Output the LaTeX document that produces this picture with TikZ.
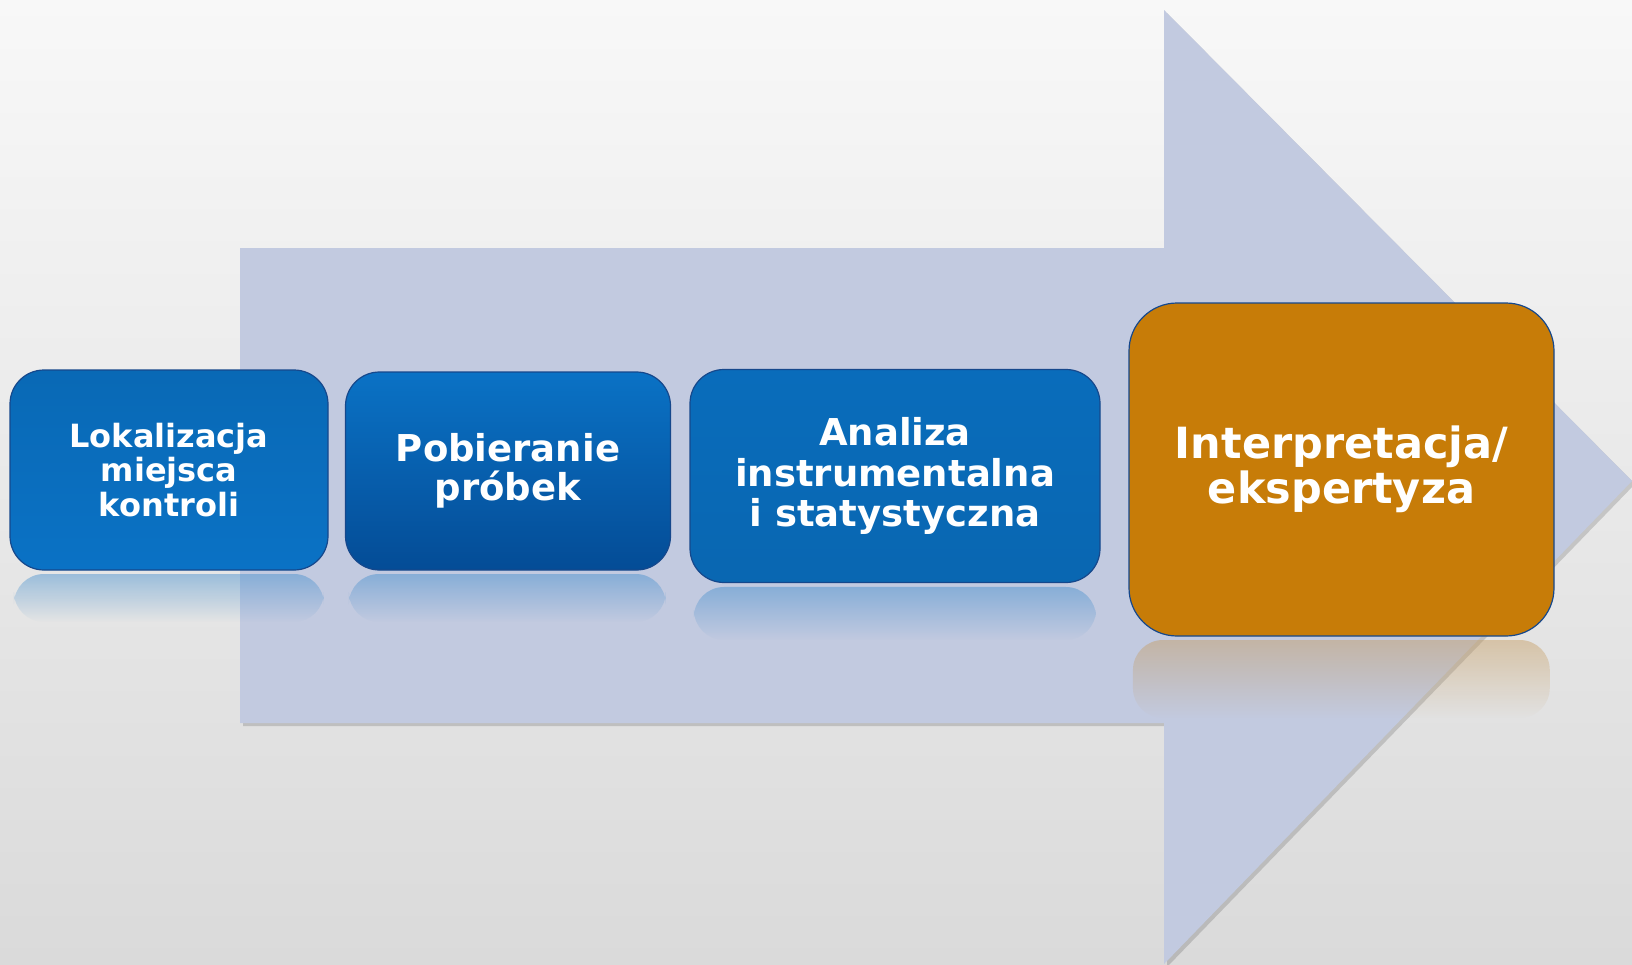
\documentclass[tikz,border=0pt]{standalone}
\usepackage{fontspec}
\setmainfont{DejaVu Sans}
\usetikzlibrary{fadings}
\definecolor{bgtop}{RGB}{248,248,248}
\definecolor{bgbot}{RGB}{218,218,218}
\definecolor{arrowfill}{RGB}{194,202,224}
\definecolor{boxedge}{RGB}{22,72,140}
\definecolor{blueA}{RGB}{10,114,197}
\definecolor{blueB}{RGB}{4,76,150}
\definecolor{orangeA}{RGB}{199,124,8}

\tikzset{
  stepbox/.style={rounded corners=34pt, draw=boxedge, line width=1.2pt,
    text=white, align=center},
  reflect/.style={rounded corners=30pt, path fading=south, opacity=0.45}
}

\begin{document}
\begin{tikzpicture}[x=1pt,y=1pt,yscale=-1,xscale=1]
\useasboundingbox (0,0) rectangle (1632,964);

%Shape: Background
\shade[top color=bgtop, bottom color=bgbot] (0,0) rectangle (1632,964);

%Shape: Arrow shadow
\fill[black, opacity=0.15] (243,251) -- (1167,251) -- (1167,13) -- (1635,484) -- (1167,967) -- (1167,726) -- (243,726) -- cycle ;
%Shape: Arrow
\fill[arrowfill] (240,248) -- (1164,248) -- (1164,10) -- (1632,481) -- (1164,964) -- (1164,723) -- (240,723) -- cycle ;

%Shape: Reflections
\fill[reflect, blueA!70!arrowfill] (14,574) rectangle (324,622);
\fill[reflect, blueA!70!arrowfill] (349,574) rectangle (666,622);
\fill[reflect, blueA!70!arrowfill] (694,587) rectangle (1096,640);
\fill[reflect, orangeA!60!arrowfill] (1133,640) rectangle (1550,718);

% Text Node
\node[stepbox, top color=blueA!92!black, bottom color=blueA, minimum width=318pt, minimum height=200pt,
  font=\bfseries\fontsize{32}{34.5}\selectfont] (lok) at (169,470)
  {Lokalizacja\\miejsca\\kontroli};
% Text Node
\node[stepbox, top color=blueA, bottom color=blueB, minimum width=325pt, minimum height=198pt,
  font=\bfseries\fontsize{37}{39.5}\selectfont] (pob) at (508,471)
  {Pobieranie\\próbek};
% Text Node
\node[stepbox, top color=blueA!95!black, bottom color=blueA!90!black, minimum width=410pt, minimum height=213pt,
  font=\bfseries\fontsize{37}{40.6}\selectfont] (ana) at (895,476)
  {Analiza\\instrumentalna\\i statystyczna};
% Text Node
\node[stepbox, rounded corners=48pt, fill=orangeA, minimum width=425pt, minimum height=333pt,
  font=\bfseries\fontsize{43}{45}\selectfont] (int) at (1341.5,469.5)
  {Interpretacja/\\ekspertyza};

\end{tikzpicture}
\end{document}
